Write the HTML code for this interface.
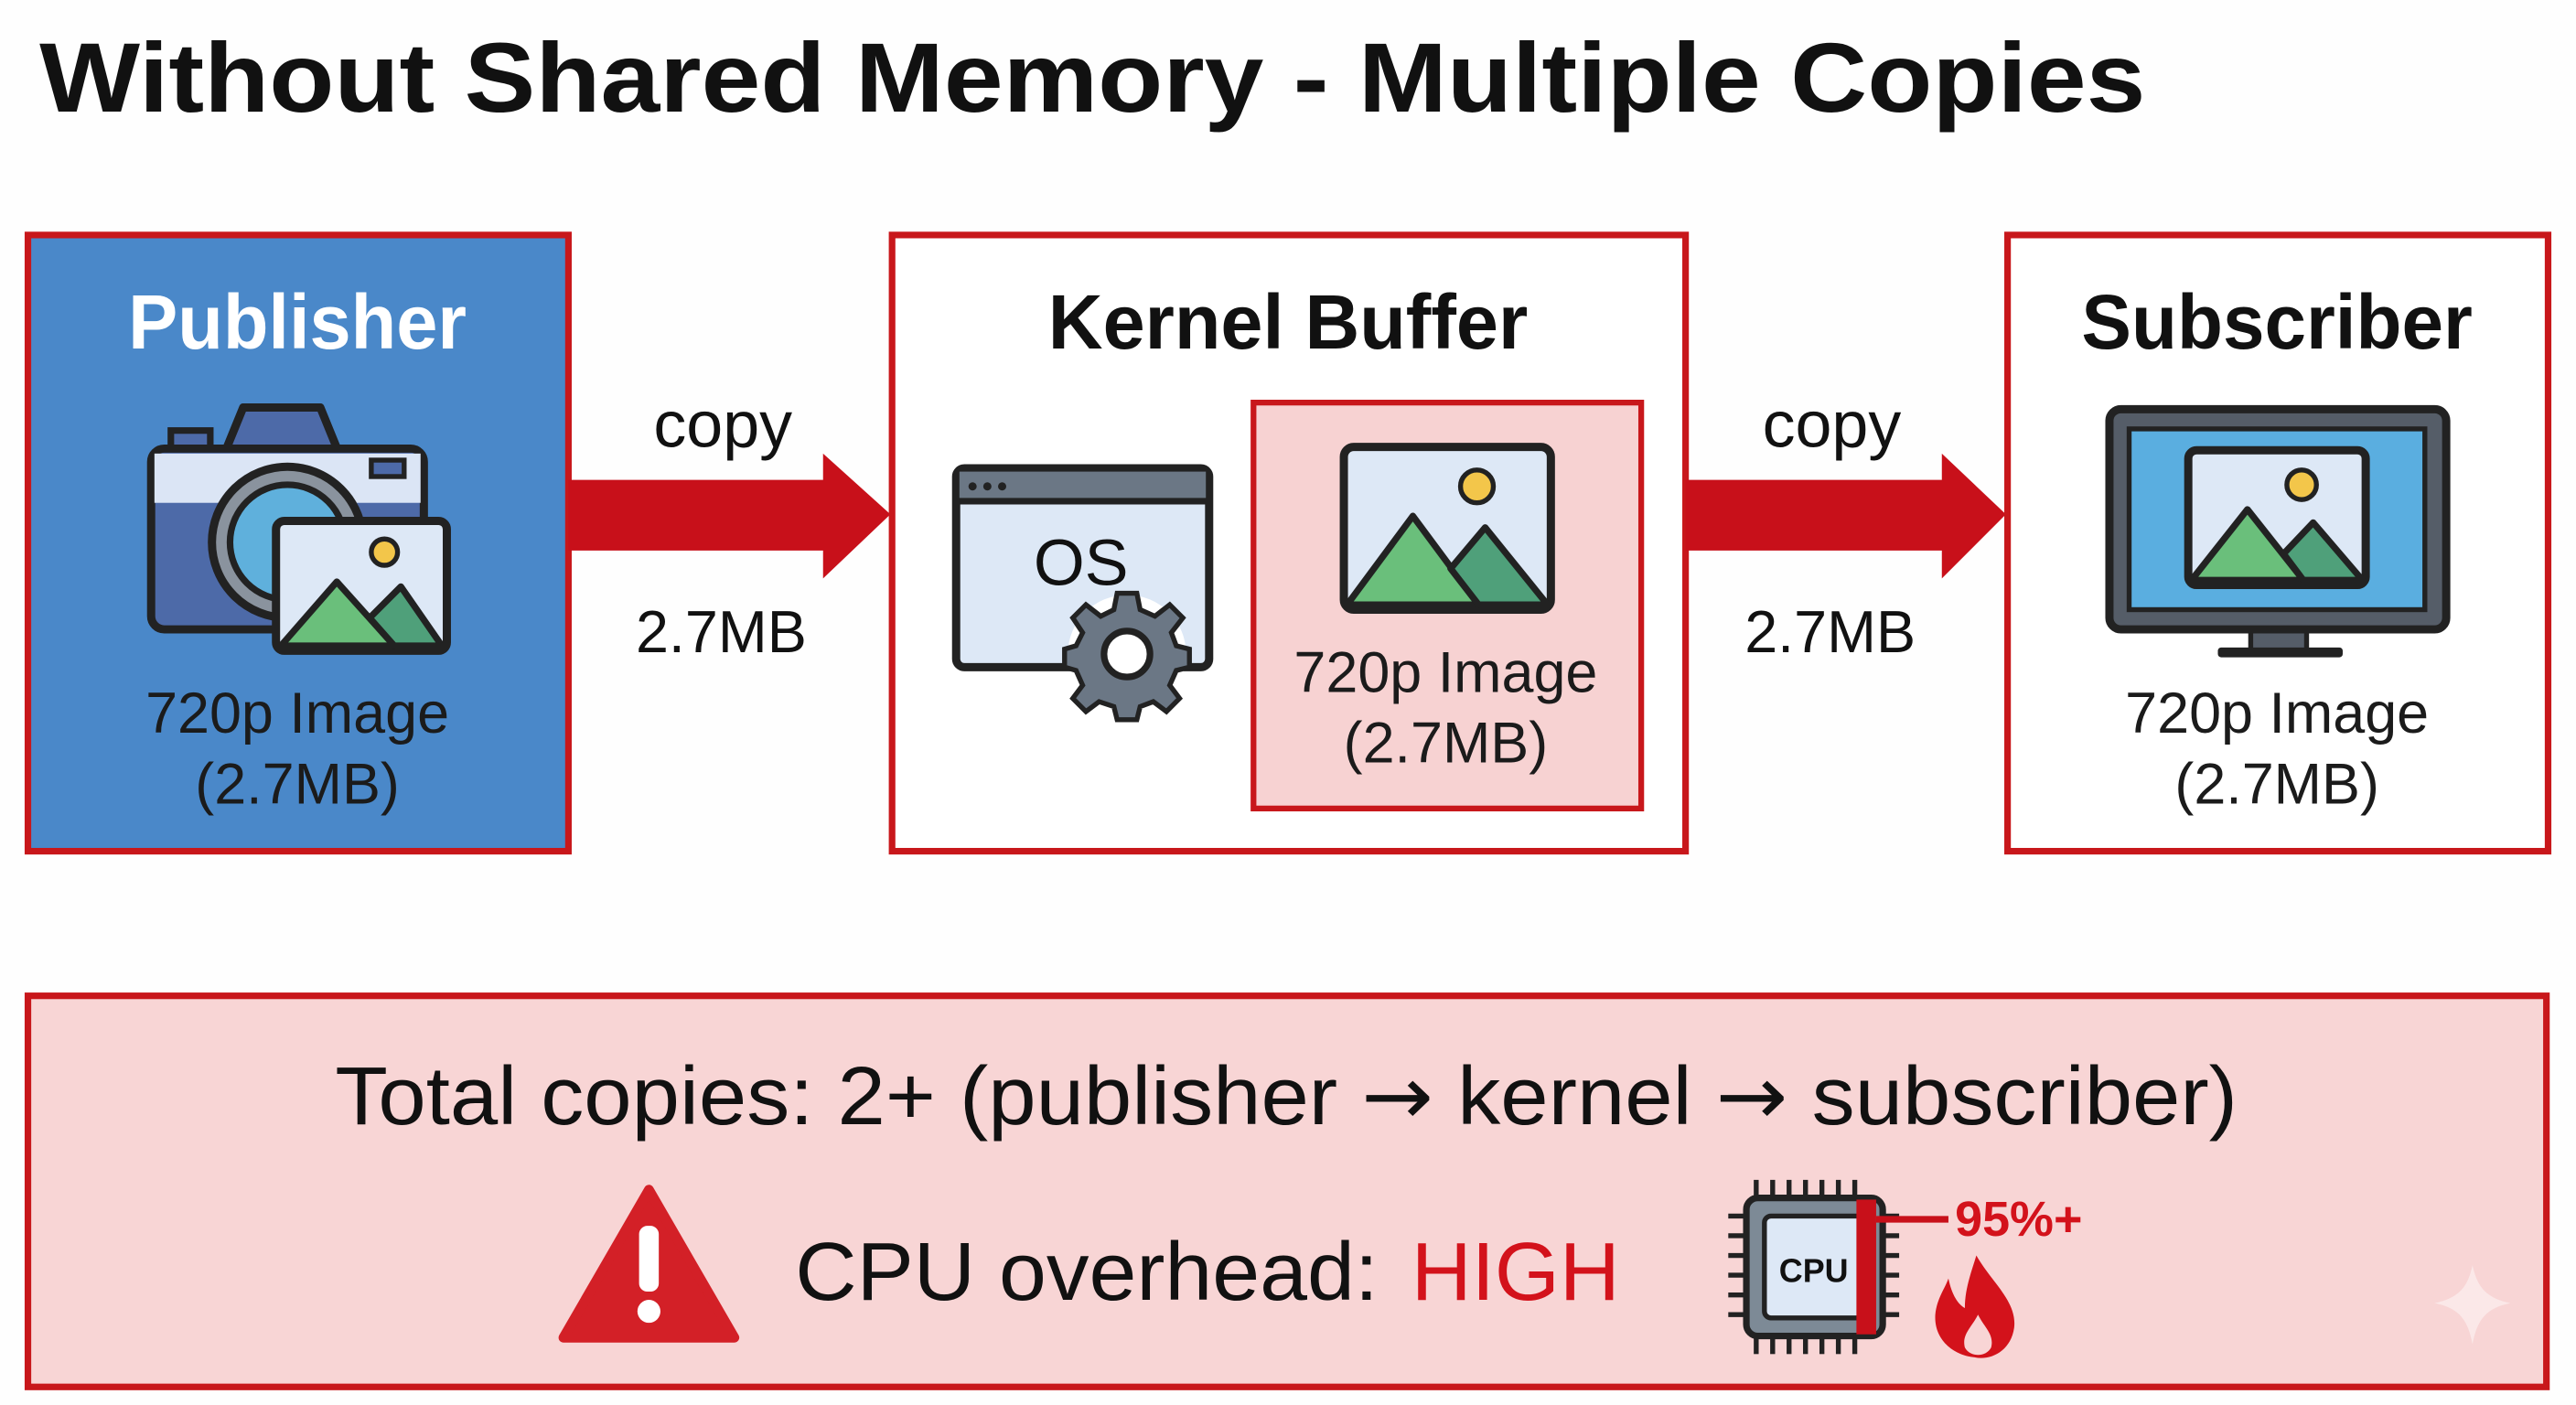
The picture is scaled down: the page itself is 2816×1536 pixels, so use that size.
<!DOCTYPE html>
<html><head><meta charset="utf-8"><style>
html,body{margin:0;padding:0;background:#fff;}
svg{display:block;}
text{font-family:"Liberation Sans",Arial,sans-serif;}
</style></head><body>
<svg width="2816" height="1536" viewBox="0 0 1568 855" preserveAspectRatio="none" xmlns="http://www.w3.org/2000/svg">
<rect width="1568" height="855" fill="#fefefe"/>
<text x="24" y="68" font-size="60" font-weight="bold" fill="#111" textLength="1282" lengthAdjust="spacingAndGlyphs">Without Shared Memory - Multiple Copies</text>

<!-- Publisher -->
<rect x="17" y="143" width="329" height="375" fill="#4a88c9" stroke="#c8171b" stroke-width="4"/>
<text x="181" y="212" font-size="47" font-weight="bold" fill="#fff" text-anchor="middle" textLength="206" lengthAdjust="spacingAndGlyphs">Publisher</text>
<rect x="104" y="262" width="24" height="14" fill="#4d6aa8" stroke="#222" stroke-width="4"/>
<path d="M137 275 L148 248 L195 248 L206 275 Z" fill="#4d6aa8" stroke="#222" stroke-width="5" stroke-linejoin="round"/>
<rect x="92" y="273" width="166" height="110" rx="8" fill="#4d6aa8" stroke="#222" stroke-width="5"/>
<rect x="94" y="276" width="162" height="30" fill="#dbe5f5"/>
<rect x="226" y="280" width="20" height="10" fill="#4d6aa8" stroke="#222" stroke-width="3"/>
<circle cx="175" cy="330" r="46" fill="#8a939e" stroke="#222" stroke-width="5"/>
<circle cx="175" cy="330" r="35" fill="#5fb0dc" stroke="#222" stroke-width="4"/>
<rect x="168" y="317" width="104" height="79" rx="5" fill="#dde8f6" stroke="#222" stroke-width="5"/>
<circle cx="234" cy="336" r="8" fill="#f3c64a" stroke="#222" stroke-width="3"/>
<path d="M171 393 L205 354 L240 393 Z" fill="#6abf7b" stroke="#222" stroke-width="4" stroke-linejoin="round"/>
<path d="M225 376 L244 357 L269 393 L240 393 Z" fill="#4fa07a" stroke="#222" stroke-width="4" stroke-linejoin="round"/>
<text x="181" y="446" font-size="35" fill="#1b1b1b" text-anchor="middle">720p Image</text>
<text x="181" y="489" font-size="35" fill="#1b1b1b" text-anchor="middle">(2.7MB)</text>

<path d="M346 292 L501 292 L501 276 L542 313 L501 352 L501 335 L346 335 Z" fill="#c8101a"/>
<text x="440" y="272" font-size="40" fill="#111" text-anchor="middle">copy</text>
<text x="439" y="397" font-size="36" fill="#111" text-anchor="middle">2.7MB</text>

<!-- Kernel -->
<rect x="543" y="143" width="483" height="375" fill="#fff" stroke="#c8171b" stroke-width="4"/>
<text x="784" y="212" font-size="47" font-weight="bold" fill="#111" text-anchor="middle" textLength="292" lengthAdjust="spacingAndGlyphs">Kernel Buffer</text>
<rect x="582" y="285" width="154" height="121" rx="5" fill="#dde8f6" stroke="#222" stroke-width="5"/>
<rect x="584" y="287" width="150" height="17" fill="#6b7785"/>
<line x1="582" y1="305" x2="736" y2="305" stroke="#222" stroke-width="4"/>
<circle cx="592" cy="296" r="2.5" fill="#222"/><circle cx="601" cy="296" r="2.5" fill="#222"/><circle cx="610" cy="296" r="2.5" fill="#222"/>
<text x="658" y="356" font-size="40" fill="#111" text-anchor="middle">OS</text>
<g transform="translate(686,398)">
<circle r="36" fill="#fff"/>
<g fill="#6b7785" stroke="#222" stroke-width="3">
<path d="M-6 -37 L6 -37 L8 -27 L17 -23 L26 -30 L34 -22 L27 -13 L30 -5 L38 -3 L38 8 L30 10 L26 19 L32 27 L24 35 L16 29 L8 32 L6 40 L-6 40 L-8 32 L-17 29 L-25 35 L-33 27 L-27 19 L-31 10 L-38 8 L-38 -3 L-31 -5 L-27 -13 L-33 -22 L-25 -30 L-16 -23 L-8 -27 Z"/>
</g>
<circle r="14" fill="#fff" stroke="#222" stroke-width="4"/>
</g>
<rect x="763" y="245" width="236" height="247" fill="#f7d2d2" stroke="#c8171b" stroke-width="3.5"/>
<rect x="818" y="272" width="126" height="99" rx="6" fill="#dde8f6" stroke="#222" stroke-width="5"/>
<circle cx="899" cy="296" r="10" fill="#f3c64a" stroke="#222" stroke-width="3"/>
<path d="M820 368 L860 314 L900 368 Z" fill="#6abf7b" stroke="#222" stroke-width="4" stroke-linejoin="round"/>
<path d="M883 346 L904 321 L942 368 L900 368 Z" fill="#4fa07a" stroke="#222" stroke-width="4" stroke-linejoin="round"/>
<text x="880" y="421" font-size="35" fill="#1b1b1b" text-anchor="middle">720p Image</text>
<text x="880" y="464" font-size="35" fill="#1b1b1b" text-anchor="middle">(2.7MB)</text>

<path d="M1026 292 L1182 292 L1182 276 L1221 313 L1182 352 L1182 335 L1026 335 Z" fill="#c8101a"/>
<text x="1115" y="272" font-size="40" fill="#111" text-anchor="middle">copy</text>
<text x="1114" y="397" font-size="36" fill="#111" text-anchor="middle">2.7MB</text>

<!-- Subscriber -->
<rect x="1222" y="143" width="329" height="375" fill="#fff" stroke="#c8171b" stroke-width="4"/>
<text x="1386" y="212" font-size="47" font-weight="bold" fill="#111" text-anchor="middle" textLength="238" lengthAdjust="spacingAndGlyphs">Subscriber</text>
<rect x="1370" y="382" width="34" height="14" fill="#555d68" stroke="#222" stroke-width="3"/>
<rect x="1350" y="394" width="76" height="6" rx="2" fill="#222"/>
<rect x="1284" y="249" width="205" height="134" rx="7" fill="#555d68" stroke="#222" stroke-width="5"/>
<rect x="1296" y="261" width="180" height="110" fill="#5aaee0" stroke="#222" stroke-width="3"/>
<rect x="1332" y="274" width="108" height="82" rx="5" fill="#dde8f6" stroke="#222" stroke-width="5"/>
<circle cx="1401" cy="295" r="9" fill="#f3c64a" stroke="#222" stroke-width="3"/>
<path d="M1334 353 L1368 310 L1402 353 Z" fill="#6abf7b" stroke="#222" stroke-width="4" stroke-linejoin="round"/>
<path d="M1390 337 L1408 318 L1438 353 L1402 353 Z" fill="#4fa07a" stroke="#222" stroke-width="4" stroke-linejoin="round"/>
<text x="1386" y="446" font-size="35" fill="#1b1b1b" text-anchor="middle">720p Image</text>
<text x="1386" y="489" font-size="35" fill="#1b1b1b" text-anchor="middle">(2.7MB)</text>

<!-- Bottom -->
<rect x="17" y="606" width="1533" height="238" fill="#f8d5d5" stroke="#c8171b" stroke-width="4"/>
<text x="783" y="684" font-size="50" fill="#111" text-anchor="middle" textLength="1158" lengthAdjust="spacingAndGlyphs">Total copies: 2+ (publisher <tspan font-family="DejaVu Sans, sans-serif">→</tspan> kernel <tspan font-family="DejaVu Sans, sans-serif">→</tspan> subscriber)</text>
<path d="M395 724 L447 814 L343 814 Z" fill="#d32027" stroke="#d32027" stroke-width="6" stroke-linejoin="round"/>
<rect x="389" y="746" width="12" height="40" rx="5" fill="#fff"/>
<circle cx="395" cy="798" r="7" fill="#fff"/>
<text x="484" y="791" font-size="50" fill="#111" textLength="355" lengthAdjust="spacingAndGlyphs">CPU overhead: </text>
<text x="859" y="791" font-size="50" fill="#d3121b" textLength="127" lengthAdjust="spacingAndGlyphs">HIGH</text>
<g stroke="#222" stroke-width="3">
<line x1="1069" y1="718" x2="1069" y2="730"/><line x1="1079" y1="718" x2="1079" y2="730"/><line x1="1089" y1="718" x2="1089" y2="730"/><line x1="1099" y1="718" x2="1099" y2="730"/><line x1="1109" y1="718" x2="1109" y2="730"/><line x1="1119" y1="718" x2="1119" y2="730"/><line x1="1129" y1="718" x2="1129" y2="730"/>
<line x1="1069" y1="812" x2="1069" y2="824"/><line x1="1079" y1="812" x2="1079" y2="824"/><line x1="1089" y1="812" x2="1089" y2="824"/><line x1="1099" y1="812" x2="1099" y2="824"/><line x1="1109" y1="812" x2="1109" y2="824"/><line x1="1119" y1="812" x2="1119" y2="824"/><line x1="1129" y1="812" x2="1129" y2="824"/>
<line x1="1052" y1="740" x2="1064" y2="740"/><line x1="1052" y1="752" x2="1064" y2="752"/><line x1="1052" y1="764" x2="1064" y2="764"/><line x1="1052" y1="776" x2="1064" y2="776"/><line x1="1052" y1="788" x2="1064" y2="788"/><line x1="1052" y1="800" x2="1064" y2="800"/>
<line x1="1144" y1="740" x2="1156" y2="740"/><line x1="1144" y1="752" x2="1156" y2="752"/><line x1="1144" y1="764" x2="1156" y2="764"/><line x1="1144" y1="776" x2="1156" y2="776"/><line x1="1144" y1="788" x2="1156" y2="788"/><line x1="1144" y1="800" x2="1156" y2="800"/>
</g>
<rect x="1063" y="729" width="83" height="84" rx="7" fill="#7d8a96" stroke="#222" stroke-width="4"/>
<rect x="1074" y="740" width="62" height="62" rx="4" fill="#dde8f6" stroke="#222" stroke-width="3"/>
<text x="1104" y="780" font-size="20" font-weight="bold" fill="#111" text-anchor="middle">CPU</text>
<rect x="1130" y="730" width="12" height="82" fill="#c8101a"/>
<line x1="1142" y1="742" x2="1186" y2="742" stroke="#c8101a" stroke-width="4"/>
<text x="1190" y="752" font-size="30" font-weight="bold" fill="#d3121b">95%+</text>
<path d="M1203 764 C1212 780 1228 792 1226 808 C1224 822 1212 828 1202 826 C1190 825 1177 816 1178 800 C1179 790 1184 784 1186 778 C1188 788 1192 794 1196 796 C1196 784 1200 774 1203 764 Z" fill="#d3121b"/>
<path d="M1204 800 C1208 808 1214 812 1212 820 C1209 826 1199 826 1196 820 C1194 812 1200 808 1204 800 Z" fill="#f8d5d5"/>
<path d="M1505 770 C1508 784 1514 790 1528 793 C1514 796 1508 802 1505 818 C1502 802 1496 796 1482 793 C1496 790 1502 784 1505 770 Z" fill="#fbe8e8"/>
</svg>
</body></html>
